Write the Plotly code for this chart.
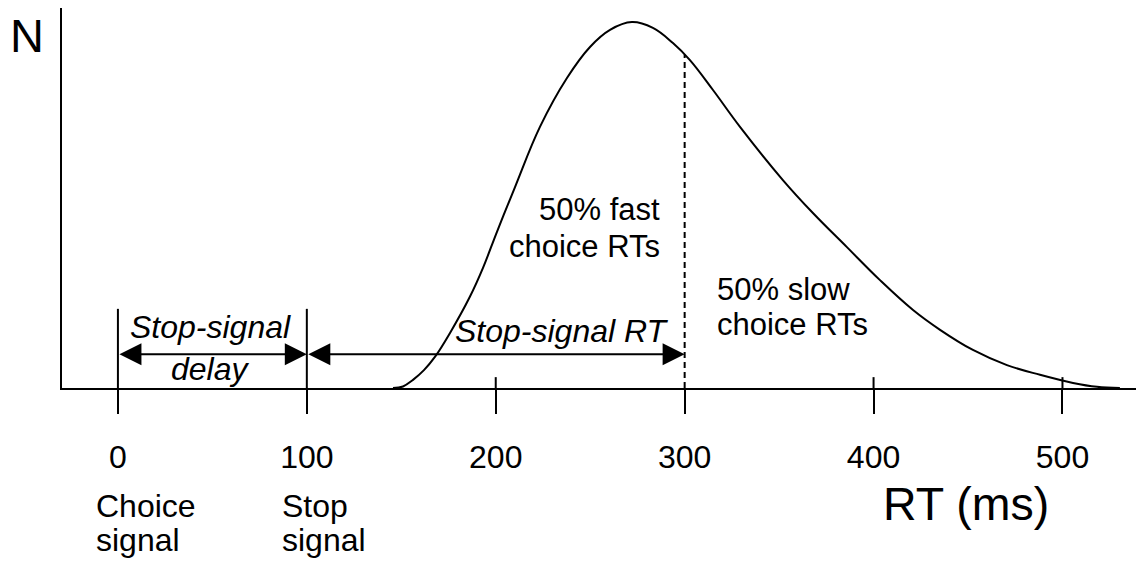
import plotly.graph_objects as go

# RT distribution (ms, relative count N)
rt_ms = [145.6, 150.9, 156.2, 162.0, 167.8, 175.8, 186.3, 193.2, 200.6, 210.2, 223.4,
         237.7, 249.9, 260.5, 272.1, 283.2, 293.8, 302.8, 315.0, 329.3, 352.0, 367.9,
         385.9, 403.4, 420.9, 435.2, 452.6, 470.6, 488.1, 505.6, 518.3, 530.4]
n_count = [0, 0.4, 2.1, 4.6, 8.0, 14.2, 23.5, 30.9, 40.2, 51.8, 67.3,
           79.9, 87.9, 92.3, 94.3, 92.8, 88.9, 84.5, 76.8, 67.3, 53.6, 45.1,
           36.3, 27.8, 20.1, 15.0, 9.8, 5.9, 3.4, 1.3, 0.3, 0]

tick_vals = [0, 100, 200, 300, 400, 500]
tick_text = ['0', '100', '200', '300', '400', '500']
tick_top = [20.4, 20.4, 2.8, 0, 2.8, 2.8]   # how far each tick pokes above the axis

ssd_ms = [0, 100]        # stop-signal delay
ssrt_ms = [100, 300]     # stop-signal RT
median_rt = 300
median_n = 85.9
arrow_n = 8.7

font = 'Arial, Liberation Sans, sans-serif'

fig = go.Figure()
fig.add_trace(go.Scatter(x=rt_ms, y=n_count, mode='lines',
                         line=dict(color='black', width=2, shape='spline', smoothing=1.1),
                         hoverinfo='skip'))

# tick marks above the axis
for v, top in zip(tick_vals, tick_top):
    if top > 0:
        fig.add_shape(type='line', x0=v, x1=v, y0=0, y1=top, xref='x', yref='y',
                      line=dict(color='black', width=2))

# dashed median line
fig.add_shape(type='line', x0=median_rt, x1=median_rt, y0=0, y1=median_n, xref='x', yref='y',
              line=dict(color='black', width=2, dash='6px,4px'))

anns = []
# double arrows
for a, b in [ssd_ms, ssrt_ms]:
    anns.append(dict(x=b, y=arrow_n, ax=a, ay=arrow_n, xref='x', yref='y', axref='x', ayref='y',
                     text='', showarrow=True, arrowhead=2, startarrowhead=2, arrowside='end+start',
                     arrowsize=2.2, startarrowsize=2.2, arrowwidth=2, arrowcolor='black',
                     standoff=0, startstandoff=0))


def txt(t, x, y, size=31, xanchor='center', xref='x', yref='y'):
    anns.append(dict(text=t, x=x, y=y, xref=xref, yref=yref, xanchor=xanchor, yanchor='middle',
                     showarrow=False, font=dict(family=font, size=size, color='black')))


txt('<i>Stop-signal</i>', 49, 15.7, size=32)
txt('<i>delay</i>', 49, 5.0, size=32)
txt('<i>Stop-signal RT</i>', 235, 14.7, size=32)
txt('50% fast', 288, 46.0, xanchor='right')
txt('choice RTs', 288, 36.5, xanchor='right')
txt('50% slow', 316, 25.4, xanchor='left')
txt('choice RTs', 316, 16.4, xanchor='left')

txt('N', -0.05, 0.9276, size=47, xanchor='left', xref='paper', yref='paper')
txt('Choice', 0.0296, -0.311, size=32, xanchor='left', xref='paper', yref='paper')
txt('signal', 0.0296, -0.399, size=32, xanchor='left', xref='paper', yref='paper')
txt('Stop', 0.2019, -0.311, size=32, xanchor='left', xref='paper', yref='paper')
txt('signal', 0.2019, -0.401, size=32, xanchor='left', xref='paper', yref='paper')
txt('RT (ms)', 0.837, -0.305, size=46.5, xref='paper', yref='paper')

# page body has an 8px margin, so the figure is 8px smaller and shifted
fig.update_layout(
    width=1136, height=559,
    margin=dict(l=54, r=2, t=0, b=179),
    plot_bgcolor='white', paper_bgcolor='white',
    showlegend=False,
    annotations=anns,
    xaxis=dict(range=[-29.6, 542.1], showgrid=False, zeroline=False,
               showline=True, linecolor='black', linewidth=2,
               tickmode='array', tickvals=tick_vals, ticktext=tick_text,
               ticks='outside', ticklen=24, tickwidth=2, tickcolor='black',
               ticklabelstandoff=16,
               tickfont=dict(family=font, size=32, color='black')),
    yaxis=dict(range=[0, 97.94], showgrid=False, zeroline=False,
               showline=True, linecolor='black', linewidth=2,
               showticklabels=False, ticks=''),
)

fig.write_html('out.html')
